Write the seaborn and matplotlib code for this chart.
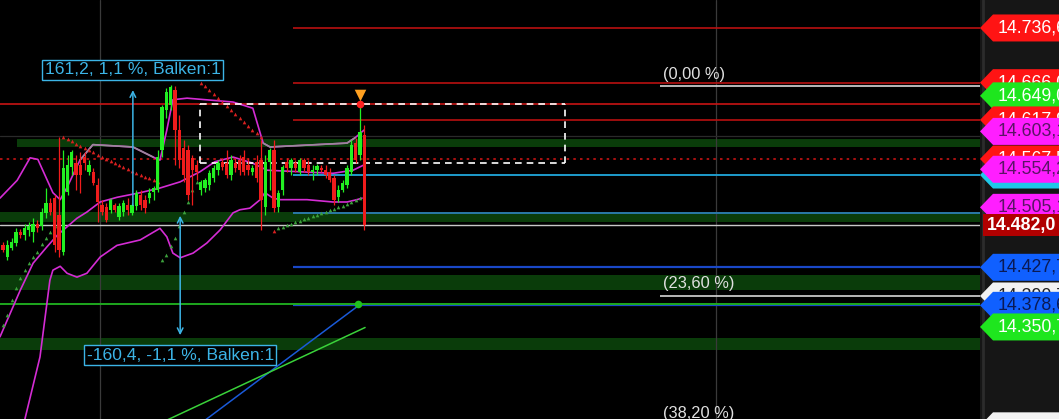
import matplotlib
matplotlib.use("Agg")
import matplotlib.pyplot as plt
from matplotlib.patches import Polygon, Rectangle
import seaborn as sns

# ---- candles (bar index = position), prices ----
opens = [14457, 14441, 14453, 14459, 14473, 14469, 14476, 14473, 14484, 14481,
         14498, 14511, 14517, 14495, 14448, 14525, 14557, 14562, 14560, 14570,
         14551, 14551, 14534, 14508, 14506, 14502, 14508, 14493, 14499, 14508,
         14498, 14507, 14521, 14515, 14517, 14525, 14528, 14579, 14631, 14637,
         14657, 14605, 14582, 14579, 14569, 14560, 14528, 14530, 14534, 14543,
         14553, 14564, 14562, 14547, 14562, 14566, 14570, 14560, 14551, 14564,
         14566, 14506, 14564, 14579, 14506, 14528, 14564, 14556, 14562, 14551,
         14566, 14560, 14551, 14553, 14556, 14553, 14551, 14543, 14518, 14528,
         14534, 14551, 14588, 14573, 14598]
highs = [14460, 14463, 14466, 14478, 14477, 14484, 14486, 14491, 14489, 14504,
         14530, 14517, 14521, 14596, 14579, 14573, 14579, 14573, 14577, 14577,
         14566, 14556, 14543, 14515, 14511, 14517, 14511, 14511, 14515, 14517,
         14511, 14528, 14528, 14521, 14530, 14533, 14579, 14637, 14659, 14663,
         14662, 14624, 14592, 14586, 14573, 14566, 14540, 14543, 14553, 14560,
         14566, 14569, 14579, 14573, 14569, 14573, 14579, 14569, 14560, 14573,
         14592, 14573, 14582, 14592, 14528, 14560, 14569, 14569, 14566, 14569,
         14569, 14566, 14560, 14561, 14560, 14560, 14556, 14547, 14534, 14540,
         14560, 14592, 14595, 14638, 14611]
lows = [14448, 14437, 14450, 14455, 14466, 14463, 14468, 14460, 14473, 14476,
        14491, 14495, 14448, 14441, 14444, 14521, 14547, 14528, 14524, 14553,
        14547, 14534, 14486, 14495, 14486, 14498, 14499, 14489, 14494, 14495,
        14495, 14502, 14502, 14498, 14511, 14515, 14525, 14570, 14620, 14631,
        14560, 14556, 14538, 14515, 14508, 14540, 14521, 14525, 14528, 14538,
        14547, 14553, 14543, 14540, 14551, 14547, 14547, 14547, 14547, 14538,
        14476, 14495, 14528, 14499, 14499, 14521, 14551, 14547, 14551, 14547,
        14551, 14547, 14540, 14547, 14551, 14543, 14538, 14508, 14512, 14525,
        14530, 14547, 14562, 14566, 14476]
closes = [14450, 14457, 14460, 14473, 14469, 14478, 14481, 14484, 14478, 14499,
          14511, 14499, 14457, 14450, 14556, 14560, 14577, 14547, 14547, 14562,
          14560, 14537, 14512, 14499, 14489, 14515, 14502, 14507, 14511, 14502,
          14508, 14524, 14508, 14504, 14524, 14530, 14570, 14635, 14654, 14660,
          14605, 14566, 14547, 14521, 14553, 14551, 14538, 14540, 14549, 14556,
          14562, 14557, 14547, 14566, 14556, 14553, 14551, 14553, 14556, 14543,
          14515, 14564, 14579, 14504, 14524, 14557, 14556, 14566, 14556, 14566,
          14556, 14551, 14553, 14559, 14553, 14547, 14540, 14515, 14528, 14537,
          14556, 14586, 14566, 14602, 14482]

# ---- band lines (bar, price) ----
upper_x = [-0.7, 3.3, 6.3, 8.1, 11.6, 13.3, 14.9, 17.9, 20.9, 30.2, 34.9, 36.5,
           38.1, 39.5, 42.8, 53.5, 58.1, 60.5, 62.1, 80.0, 81.9, 84.0]
upper_y = [14517, 14540, 14569, 14567, 14524, 14515, 14531, 14566, 14586, 14583, 14570, 14566,
           14605, 14644, 14646, 14641, 14633, 14588, 14583, 14588, 14595, 14605]
grey_x = [[17.9, 20.9, 30.2, 34.9], [60.5, 62.1, 80.0, 81.9]]
grey_y = [[14566, 14586, 14583, 14570], [14588, 14583, 14588, 14595]]
middle_x = [-0.7, 4.0, 7.0, 10.2, 12.6, 14.9, 17.2, 19.5, 22.6, 26.5, 31.9, 36.5, 41.2,
            45.8, 49.3, 53.5, 58.1, 61.4, 69.1, 76.7, 81.4, 84.0]
middle_y = [14338, 14398, 14433, 14454, 14469, 14480, 14491, 14499, 14512, 14518, 14524, 14530, 14538,
            14551, 14564, 14570, 14562, 14553, 14551, 14549, 14553, 14560]
lower_x = [5.1, 8.6, 10.9, 11.6, 13.3, 14.9, 17.2, 19.5, 22.6, 26.5, 31.9, 36.5, 38.1, 39.5,
           41.2, 44.2, 47.4, 50.5, 53.5, 55.1, 57.4, 59.8, 60.9, 62.8, 64.4, 70.7, 76.7, 80.0,
           82.3, 83.5]
lower_y = [14232, 14312, 14411, 14424, 14429, 14420, 14415, 14420, 14441, 14456, 14463, 14478, 14467, 14446,
           14440, 14446, 14459, 14476, 14498, 14502, 14504, 14515, 14524, 14517, 14515, 14515, 14512, 14512,
           14515, 14517]

# ---- parabolic SAR dots ----
sar_green_x = list(range(0, 13)) + list(range(37, 46)) + list(range(64, 84))
sar_green_y = [14353, 14366, 14386, 14401, 14414, 14424, 14433, 14441, 14448, 14458, 14466, 14473, 14481,
               14437, 14444, 14455, 14466, 14481, 14499, 14512, 14527, 14538,
               14478, 14480, 14482, 14484, 14486, 14488, 14490, 14491, 14494, 14495,
               14498, 14499, 14502, 14503, 14506, 14507, 14509, 14512, 14515, 14517]
sar_red_x = list(range(14, 37)) + list(range(46, 61)) + [63]
sar_red_y = [14596, 14593, 14591, 14587, 14584, 14582, 14579, 14576, 14573, 14570, 14568, 14565,
             14562, 14560, 14557, 14555, 14552, 14549, 14547, 14544, 14543, 14540, 14538,
             14666, 14662, 14657, 14651, 14646, 14641, 14636, 14631, 14626, 14620, 14615,
             14610, 14605, 14601, 14596, 14475]

# ---- trend lines ----
blue_trend_x = [44.0, 82.6]
blue_trend_y = [14218, 14378]
green_trend_x = [36.0, 84.2]
green_trend_y = [14225, 14350]

# ---- horizontal levels ----
red_right_levels = [14736.6, 14666.0, 14617.9]
red_full_level = 14638.5
red_dotted_level = 14567.5
cyan_level = 14546.8
steel_level = 14498.0
last_price = 14482.0
blue_levels = [14427.7, 14378.6]
green_level = 14380.4
fib_levels = [14661.7, 14390.7, 14223.1]
fib_labels = ["(0,00 %)", "(23,60 %)", "(38,20 %)"]
zones = [(14583.0, 14593.3), (14486.2, 14499.1), (14398.4, 14417.8), (14321.0, 14336.5)]
box_top, box_bottom = 14638.5, 14562.3

# price tags on the right scale: price, fill, text colour, label
tags = [
    (14736.6, "#ff1414", "white", "14.736,6"),
    (14666.0, "#ff1414", "white", "14.666,0"),
    (14649.0, "#1ee61e", "white", "14.649,0"),
    (14617.9, "#ff1414", "white", "14.617,9"),
    (14603.1, "#ff1eff", "#5a1466", "14.603,1"),
    (14567.5, "#ff1414", "white", "14.567,5"),
    (14546.8, "#20c8e8", "#0e3040", "14.546,8"),
    (14554.2, "#ff1eff", "#5a1466", "14.554,2"),
    (14505.1, "#ff1eff", "#5a1466", "14.505,1"),
    (14427.7, "#1060ff", "#0a1a55", "14.427,7"),
    (14390.7, "#f2f2f2", "#202020", "14.390,7"),
    (14378.6, "#1060ff", "#0a1a55", "14.378,6"),
    (14350.7, "#1ee61e", "white", "14.350,7"),
    (14223.1, "#f2f2f2", "#202020", ""),
]

YMIN, YMAX = 14231.9, 14772.7
XMIN, XMAX = -0.7, 227.2
PX = 1.2906  # price per pixel

sns.set_style("dark", {"axes.facecolor": "black", "figure.facecolor": "black"})
plt.rcParams["font.family"] = ["Liberation Sans", "DejaVu Sans"]

fig = plt.figure(figsize=(10.59, 4.19), dpi=100)
ax = fig.add_axes([0, 0, 980 / 1059, 1])
ax.set_facecolor("black")
ax.set_xlim(XMIN, XMAX)
ax.set_ylim(YMIN, YMAX)
for s in ax.spines.values():
    s.set_visible(False)
ax.set_xticks([])
ax.set_yticks([])
ax.grid(False)

# zones
for k, (lo, hi) in enumerate(zones):
    ax.axhspan(lo, hi, xmin=(17 / 980 if k == 0 else 0), color="#0a3c0a", lw=0, zorder=1)
# grid verticals
for xv in [22.6, 165.8]:
    ax.axvline(xv, color="#3a3a3a", lw=0.9, zorder=1)
ax.axhline(14597, color="#2a2a2a", lw=0.9, zorder=1)

# levels
start = 67.4
ax.hlines(red_right_levels, start, XMAX, color="#b81010", lw=1.2, zorder=2)
ax.axhline(red_full_level, color="#c81414", lw=1.2, zorder=2)
ax.axhline(red_dotted_level, color="#c81414", lw=1.2, ls=(0, (1.5, 2.5)), zorder=2)
ax.hlines([cyan_level], start, XMAX, color="#1e9ccc", lw=1.4, zorder=2)
ax.hlines([steel_level], start, XMAX, color="#2a78a8", lw=1.4, zorder=2)
ax.axhline(last_price, color="#c8c8c8", lw=1.0, zorder=2)
ax.hlines(blue_levels, start, XMAX, color="#1a48c8", lw=1.6, zorder=2)
ax.axhline(green_level, color="#1ea81e", lw=1.4, zorder=2)
ax.hlines(fib_levels, 152.8, XMAX, color="#d8d8d8", lw=1.2, zorder=2)
for lvl, lab in zip(fib_levels, fib_labels):
    ax.text(153.5, lvl + 4.5 * PX, lab, color="#e0e0e0", fontsize=11.8,
            va="bottom", ha="left", zorder=6)

# dashed box
ax.hlines([box_top, box_bottom], 45.8, 130.7, color="white", lw=1.2,
          ls=(0, (4, 3)), zorder=4)
ax.vlines([45.8, 130.7], box_bottom, box_top, color="white", lw=1.2,
          ls=(0, (4, 3)), zorder=4)

# bands
sns.lineplot(x=upper_x, y=upper_y, ax=ax, color="#d42cd4", lw=1.2, zorder=3)
for gx, gy in zip(grey_x, grey_y):
    sns.lineplot(x=gx, y=gy, ax=ax, color="#9a8a9a", lw=1.2, zorder=3)
sns.lineplot(x=middle_x, y=middle_y, ax=ax, color="#d42cd4", lw=1.2, zorder=3)
sns.lineplot(x=lower_x, y=lower_y, ax=ax, color="#d42cd4", lw=1.2, zorder=3)

# trend lines
sns.lineplot(x=blue_trend_x, y=blue_trend_y, ax=ax, color="#1a5ad8", lw=1.1, zorder=3)
sns.lineplot(x=green_trend_x, y=green_trend_y, ax=ax, color="#3ad23a", lw=1.1, zorder=3)

# SAR
sns.scatterplot(x=sar_green_x, y=sar_green_y, ax=ax, marker="^", s=7,
                color="#3ca03c", linewidth=0, zorder=3)
sns.scatterplot(x=sar_red_x, y=sar_red_y, ax=ax, marker="^", s=7,
                color="#d82020", linewidth=0, zorder=3)

# candles
up_c, dn_c = "#22f022", "#f01c1c"
for i, (o, h, l, c) in enumerate(zip(opens, highs, lows, closes)):
    col = up_c if c >= o else dn_c
    ax.vlines(i, l, h, color=col, lw=0.9, zorder=4)
    ax.bar(i, max(abs(c - o), 1.0), bottom=min(o, c), width=0.78,
           color=col, lw=0, zorder=4)

# markers at the high
ax.scatter([83], [14650], marker="v", s=70, color="#ffa020", zorder=6, lw=0)
ax.scatter([83], [14638.5], marker="o", s=30, color="#ff2020", zorder=6, lw=0)
ax.scatter([82.6], [14380.4], marker="o", s=30, color="#20c020", zorder=6, lw=0)

# measurement annotations
acol = "#3cb4e6"
ax.annotate("", xy=(30.2, 14660), xytext=(30.2, 14504),
            arrowprops=dict(arrowstyle="->", color=acol, lw=1.1), zorder=5)
ax.annotate("", xy=(41.2, 14336.5), xytext=(41.2, 14497.8),
            arrowprops=dict(arrowstyle="<->", color=acol, lw=1.1), zorder=5)
ax.text(30.2, 14682.4, "161,2, 1,1 %, Balken:1", color=acol, fontsize=12.6,
        ha="center", va="center", zorder=6,
        bbox=dict(boxstyle="square,pad=0.15", fc="black", ec=acol, lw=1.0))
ax.text(41.2, 14314.5, "-160,4, -1,1 %, Balken:1", color=acol, fontsize=12.6,
        ha="center", va="center", zorder=6,
        bbox=dict(boxstyle="square,pad=0.15", fc="black", ec=acol, lw=1.0))

# right price scale
rax = fig.add_axes([980 / 1059, 0, 79 / 1059, 1])
rax.set_facecolor("#161616")
rax.set_xlim(0, 79)
rax.set_ylim(YMIN, YMAX)
rax.set_xticks([])
rax.set_yticks([])
for s in rax.spines.values():
    s.set_visible(False)
rax.axvline(3, color="#2c2c2c", lw=2)
hh = 13.5 * PX
for k, (price, fill, tcol, lab) in enumerate(tags):
    poly = Polygon([(0, price), (13, price + hh), (90, price + hh),
                    (90, price - hh), (13, price - hh)], closed=True,
                   fc=fill, ec="none", zorder=3 + 2 * k)
    rax.add_patch(poly)
    if lab:
        rax.text(18, price, lab, color=tcol, fontsize=12.8, va="center",
                 ha="left", zorder=4 + 2 * k, clip_on=True)
rax.add_patch(Rectangle((3, last_price - 11 * PX), 90, 22 * PX, fc="#b00000",
                        ec="none", zorder=60))
rax.text(7, last_price, "14.482,0", color="white", fontsize=12.8,
         fontweight="bold", va="center", ha="left", zorder=61)

fig.savefig("out.png", dpi=100, facecolor="black")
